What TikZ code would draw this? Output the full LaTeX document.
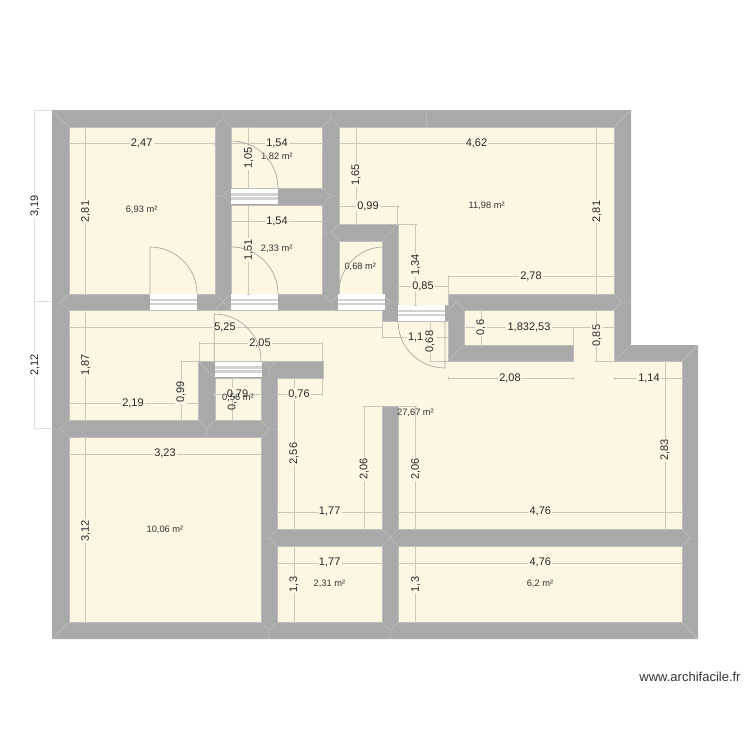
\documentclass[tikz,border=0pt]{standalone}
\usepackage{fontspec}
\setmainfont{Liberation Sans}
\definecolor{wallc}{HTML}{A9A9A9}
\definecolor{roomc}{HTML}{FDF6E3}
\definecolor{dimc}{HTML}{C9C8BE}
\definecolor{outerc}{HTML}{DEDEDE}
\definecolor{seamc}{HTML}{BEBEBE}
\definecolor{archc}{HTML}{A9A8A0}
\definecolor{stripec}{HTML}{D2D2D2}
\tikzset{
  wall/.style={fill=wallc,draw=none},
  room/.style={fill=roomc,draw=seamc,line width=0.4pt},
  dimline/.style={draw=dimc,line width=0.6pt},
  outerline/.style={draw=outerc,line width=0.7pt},
  seam/.style={draw=seamc,line width=0.5pt},
  swing/.style={draw=archc,line width=0.7pt},
  dimtext/.style={font=\fontsize{11}{12}\selectfont,fill=roomc,inner sep=1.2pt,text=black!85},
  dimouter/.style={dimtext,fill=white},
  dimv/.style={rotate=90},
  areatext/.style={font=\fontsize{9.3}{10}\selectfont,inner sep=0pt,text=black!80},
}
\newcommand{\doorstrip}[2]{%
  \fill[white] (#1,#2) rectangle ++(47,15.5);
  \fill[stripec] (#1,#2+4.5) rectangle ++(47,2.5);
  \fill[stripec] (#1,#2+8.5) rectangle ++(47,2.5);
}
\newcommand{\hdim}[3]{% y x1 x2
  \draw[dimline] (#2,#1) -- (#3,#1);
  \draw[dimline] (#2,#1-1.5) -- (#2,#1+1.5);
  \draw[dimline] (#3,#1-1.5) -- (#3,#1+1.5);
}
\newcommand{\vdim}[3]{% x y1 y2
  \draw[dimline] (#1,#2) -- (#1,#3);
  \draw[dimline] (#1-1.5,#2) -- (#1+1.5,#2);
  \draw[dimline] (#1-1.5,#3) -- (#1+1.5,#3);
}
\begin{document}
\begin{tikzpicture}[x=1pt,y=-1pt]
\useasboundingbox (0,0) rectangle (750,750);
% outer dimension lines
\draw[outerline] (34.7,110) -- (34.7,428.5) (34.7,110) -- (52,110) (34.7,301.5) -- (52,301.5) (34.7,428.5) -- (52,428.5);
% outer walls
\path[wall] (52,110) -- (631,110) -- (631,345) -- (698,345) -- (698,639) -- (52,639) -- cycle;
% rooms
\path[room] (69,127) rectangle (214.7,294);
\path[room] (231.3,127) rectangle (322.3,188);
\path[room] (231.3,205) rectangle (322.3,294);
\path[room] (339,127) -- (614,127) -- (614,294) -- (448,294) -- (448,305) -- (398,305) -- (398,224) -- (339,224) -- cycle;
\path[room] (339,241) rectangle (382,294);
\path[room] (198,361) -- (323,361) -- (323,378) -- (277,378) -- (277,529) -- (382,529) -- (382,406) -- (398,406) -- (398,529) -- (682,529) -- (682,361) -- (614,361) -- (614,310) -- (464,310) -- (464,345) -- (573,345) -- (573,361) -- (448,361) -- (448,321) -- (382,321) -- (382,310) -- (69,310) -- (69,420) -- (198,420) -- cycle;
\path[room] (214.7,378) rectangle (261,420);
\path[room] (69,437) rectangle (261,622.5);
\path[room] (277,546) rectangle (382,622.5);
\path[room] (398,546) rectangle (682,622.5);
% seams at wall junctions
\draw[seam] (52,110) -- (69,127) (631,110) -- (614,127) (52,639) -- (69,622) (698,639) -- (682,622)
  (698,345) -- (682,361) (631,345) -- (614,361)
  (214.7,127) -- (223,118) -- (231.3,127) (223,118) -- (223,110)
  (322.3,127) -- (331,118) -- (339,127) (331,118) -- (331,110)
  (426.7,110) -- (426.7,127)
  (69,294) -- (60,302) -- (69,310) (60,302) -- (52,302)
  (214.7,294) -- (231.3,310) (231.3,294) -- (214.7,310)
  (231.3,188) -- (223,196) -- (231.3,205) (223,196) -- (214.7,196)
  (322.3,188) -- (331,196) -- (322.3,205) (331,196) -- (339,196)
  (339,224) -- (331,232) -- (339,241) (331,232) -- (322.3,232)
  (398,224) -- (382,241)
  (322.3,294) -- (331,302) -- (339,294) (331,302) -- (331,310)
  (382,294) -- (390,302) -- (382,310) (390,302) -- (398,302)
  (448,294) -- (456,302) -- (464,310) (456,302) -- (448,310)
  (614,294) -- (622,302) -- (614,310) (622,302) -- (631,302)
  (464,345) -- (448,361)
  (198,361) -- (214.7,378)
  (261,361) -- (269,369) -- (277,361) (269,369) -- (269,378)
  (198,420) -- (206.5,429) -- (214.7,420) (206.5,429) -- (206.5,437)
  (69,420) -- (60,429) -- (69,437) (60,429) -- (52,429)
  (261,420) -- (269,429) -- (261,437) (269,429) -- (277,429)
  (277,529) -- (269,538) -- (277,546) (269,538) -- (261,538)
  (382,529) -- (398,546) (398,529) -- (382,546)
  (682,529) -- (690,538) -- (682,546) (690,538) -- (698,538)
  (261,622.5) -- (269,630) -- (277,622.5) (269,630) -- (269,639)
  (382,622.5) -- (390,630) -- (398,622.5) (390,630) -- (390,639);
% doors
\doorstrip{150}{294}
\doorstrip{231.3}{188.5}
\doorstrip{231.3}{294}
\doorstrip{338}{294}
\doorstrip{214.5}{361.5}
\doorstrip{398}{305}
% dimension lines
\hdim{143.5}{69}{214.7}
\hdim{143.5}{231.3}{322.3}
\hdim{143.5}{339}{614}
\hdim{221.7}{231.3}{322.3}
\hdim{206.7}{339}{398}
\hdim{286.7}{398}{448}
\hdim{276.7}{448}{614}
\hdim{327.5}{464}{614}
\hdim{327.3}{69}{382}
\hdim{337.7}{382}{448}
\hdim{378.3}{448}{573}
\hdim{378.3}{614}{682}
\hdim{343.3}{199}{322}
\hdim{394.3}{214.7}{261}
\hdim{394.3}{277}{322}
\hdim{403.3}{69}{198}
\hdim{454}{69}{261}
\hdim{512.5}{277}{382}
\hdim{512.5}{398}{682}
\hdim{563.3}{277}{382}
\hdim{563.3}{398}{682}
\vdim{85.7}{127}{294}
\vdim{85.7}{310}{420}
\vdim{85.7}{437}{622.5}
\vdim{248.7}{127}{188}
\vdim{248.7}{205}{294}
\vdim{356}{127}{224}
\vdim{415.7}{224}{305}
\vdim{596.7}{127}{294}
\vdim{596.7}{310}{361}
\vdim{481}{310}{345}
\vdim{430}{321}{361}
\vdim{181}{361}{420}
\vdim{232.3}{378}{420}
\vdim{294}{378}{529}
\vdim{364.3}{406}{529}
\vdim{415.7}{406}{529}
\vdim{665}{361}{529}
\vdim{294}{546}{622.5}
\vdim{415.7}{546}{622.5}
% extension lines
\draw[dimline] (573,327.5) -- (573,345) (596.7,361) -- (614,361) (382.3,321) -- (382.3,337.7)
  (430,361) -- (448,361) (181,361) -- (198,361) (199,343.3) -- (199,361) (322,343.3) -- (322,361)
  (322,378) -- (322,394.3) (364.3,406) -- (382,406) (398,406) -- (415.7,406)
  (398,224) -- (415.7,224) (397.7,206.7) -- (397.7,224) (448,276.7) -- (448,294);
% labels
\node[dimtext] (d01) at (141.7,143) {2,47};
\node[dimtext] (d02) at (277,143) {1,54};
\node[dimtext] (d03) at (476.5,143) {4,62};
\node[dimtext] (d04) at (277,221) {1,54};
\node[dimtext] (d05) at (368,206) {0,99};
\node[dimtext] (d06) at (423,286) {0,85};
\node[dimtext] (d07) at (531,276) {2,78};
\node[dimtext] (d08) at (529,327) {1,832,53};
\node[dimtext] (d09) at (225,327) {5,25};
\node[dimtext] (d10) at (510,378) {2,08};
\node[dimtext] (d11) at (649,378) {1,14};
\node[dimtext] (d12) at (260,343) {2,05};
\node[dimtext] (d13) at (299,394) {0,76};
\node[dimtext] (d14) at (133,403) {2,19};
\node[dimtext] (d15) at (165,453.5) {3,23};
\node[dimtext] (d16) at (329.7,511.5) {1,77};
\node[dimtext] (d17) at (540.3,511.5) {4,76};
\node[dimtext] (d18) at (329.7,562.5) {1,77};
\node[dimtext] (d19) at (540.3,562.5) {4,76};
\node[dimtext,dimv] (v01) at (85.7,211.5) {2,81};
\node[dimtext,dimv] (v02) at (85.7,365) {1,87};
\node[dimtext,dimv] (v03) at (85.7,531) {3,12};
\node[dimtext,dimv] (v04) at (248.7,158) {1,05};
\node[dimtext,dimv] (v05) at (248.7,250) {1,51};
\node[dimtext,dimv] (v06) at (356,175) {1,65};
\node[dimtext,dimv] (v07) at (415.7,265) {1,34};
\node[dimtext,dimv] (v08) at (597,211.5) {2,81};
\node[dimtext,dimv] (v09) at (597,335.5) {0,85};
\node[dimtext,dimv] (v10) at (481,327.5) {0,6};
\node[dimtext] (d20) at (415.7,337.5) {1,1};
\node[dimtext,dimv] (v11) at (430,341.5) {0,68};
\node[dimtext,dimv] (v12) at (181,391.7) {0,99};
\node[dimtext,dimv] (v13) at (294,453.5) {2,56};
\node[dimtext,dimv] (v14) at (364.3,469) {2,06};
\node[dimtext,dimv] (v15) at (415.7,469) {2,06};
\node[dimtext,dimv] (v16) at (665,450) {2,83};
\node[dimtext,dimv] (v17) at (294,584.5) {1,3};
\node[dimtext,dimv] (v18) at (415.7,584.5) {1,3};
\node[dimouter,dimv] (v19) at (35,206) {3,19};
\node[dimouter,dimv] (v20) at (35,365) {2,12};
\node[dimtext,dimv,fill=none] (v21) at (232.3,399.5) {0,71};
\node[dimtext] (d21) at (237.5,394) {0,79};
% area labels
\node[areatext] (a01) at (141.7,210) {6,93 m²};
\node[areatext] (a02) at (277,156.7) {1,82 m²};
\node[areatext] (a03) at (276.7,248.7) {2,33 m²};
\node[areatext] (a04) at (486.7,205.7) {11,98 m²};
\node[areatext] (a05) at (360.3,266.5) {0,68 m²};
\node[areatext] (a06) at (415.5,412.5) {27,67 m²};
\node[areatext] (a07) at (238,398) {0,56 m²};
\node[areatext] (a08) at (165,529.7) {10,06 m²};
\node[areatext] (a09) at (329.5,583.7) {2,31 m²};
\node[areatext] (a10) at (540,583.7) {6,2 m²};
% door swings
\draw[swing] (150,294) -- (150,247) .. controls (176,247) and (197,268) .. (197,294);
\draw[swing] (231.3,141) .. controls (257,141) and (278,162) .. (278,188);
\draw[swing] (231.3,247) .. controls (257,247) and (278,268) .. (278,294);
\draw[swing] (382,247) .. controls (358,248) and (339,268) .. (338.5,294);
\draw[swing] (214.3,361) -- (214.3,314) .. controls (240,314) and (261,335) .. (261,361);
\draw[swing] (398,321) .. controls (398,347) and (419,368) .. (445,368) -- (445,321);
% watermark
\node[font=\fontsize{13}{15}\selectfont,inner sep=0pt,text=black!80] (wm) at (690,676.5) {www.archifacile.fr};
\end{tikzpicture}
\end{document}
